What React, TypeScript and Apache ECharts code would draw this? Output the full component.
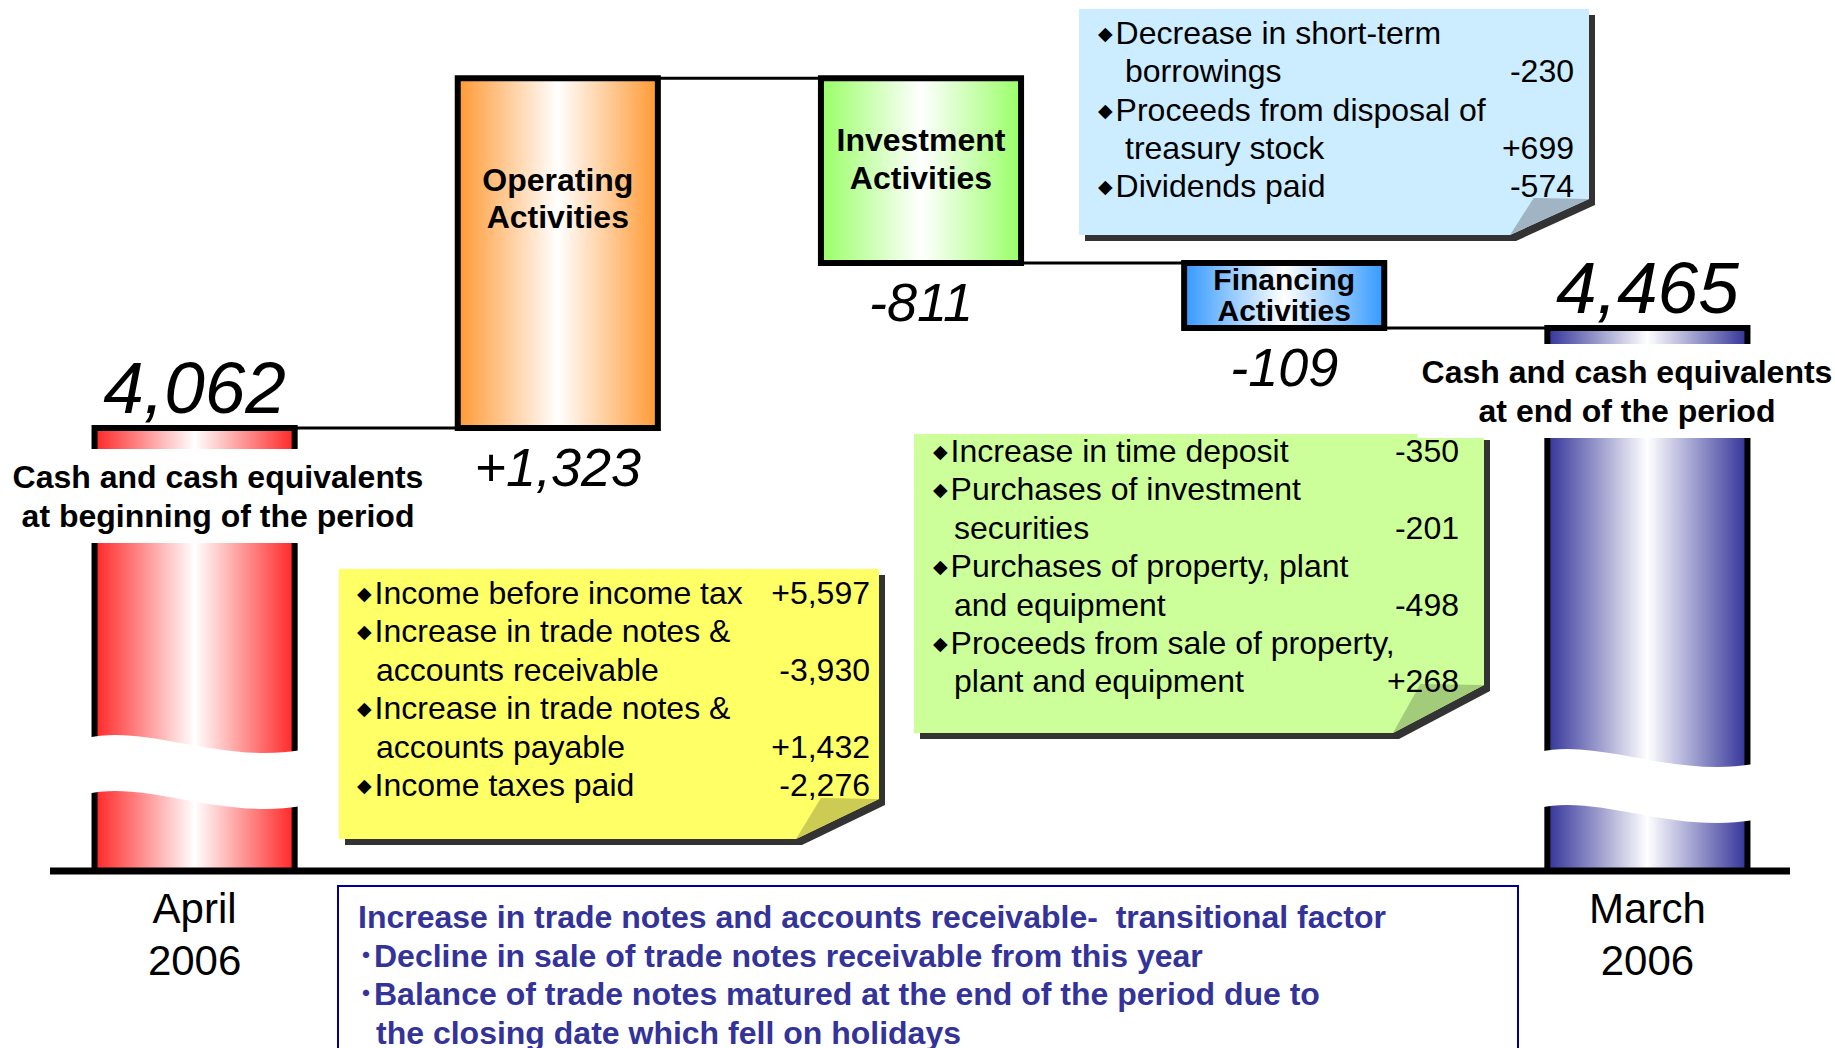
import React, { useEffect, useRef } from 'react';
import * as echarts from 'echarts';

// ---------------- data ----------------
const categories = [
  'Cash and cash equivalents at beginning of the period',
  'Operating Activities',
  'Investment Activities',
  'Financing Activities',
  'Cash and cash equivalents at end of the period',
];
const periodLabels = ['April\n2006', '', '', '', 'March\n2006'];
const barTitles = ['', 'Operating\nActivities', 'Investment\nActivities', 'Financing\nActivities', ''];
const openingBalance = 4062;
const activityChanges = [1323, -811, -109];
const closingBalance = 4465;
const valueLabels = ['4,062', '+1,323', '-811', '-109', '4,465'];
const sideLabels = [
  'Cash and cash equivalents\nat beginning of the period',
  'Cash and cash equivalents\nat end of the period',
];

const operatingDetails = [
  ['◆', 'Income before income tax', '+5,597'],
  ['◆', 'Increase in trade notes &', ''],
  ['', 'accounts receivable', '-3,930'],
  ['◆', 'Increase in trade notes &', ''],
  ['', 'accounts payable', '+1,432'],
  ['◆', 'Income taxes paid', '-2,276'],
];
const investmentDetails = [
  ['◆', 'Increase in time deposit', '-350'],
  ['◆', 'Purchases of investment', ''],
  ['', 'securities', '-201'],
  ['◆', 'Purchases of property, plant', ''],
  ['', 'and equipment', '-498'],
  ['◆', 'Proceeds from sale of property,', ''],
  ['', 'plant and equipment', '+268'],
];
const financingDetails = [
  ['◆', 'Decrease in short-term', ''],
  ['', 'borrowings', '-230'],
  ['◆', 'Proceeds from disposal of', ''],
  ['', 'treasury stock', '+699'],
  ['◆', 'Dividends paid', '-574'],
];
const footnoteLines = [
  'Increase in trade notes and accounts receivable-  transitional factor',
  '･Decline in sale of trade notes receivable from this year',
  '･Balance of trade notes matured at the end of the period due to',
  'the closing date which fell on holidays',
];

// ---------------- styles ----------------
const FONT = '"Liberation Sans", Arial, "Noto Sans CJK JP", sans-serif';
const barColors = ['#FF2626', '#FF9933', '#99FF66', '#3399FF', '#333399'];
const titleAnchor = [0, 0.345, 0.44, 0.5, 0];
const titleFontSize = [32, 32, 32, 30, 32];
const titleLineHeight = [37, 37, 38, 31, 37];

const WavePath = echarts.graphic.extendPath(
  'M0 2 C60 -12 130 28 210 14 L210 70 C130 84 60 44 0 58 Z',
  {}
);
echarts.graphic.registerShape('breakWave', WavePath);

// waterfall rows built from the data: [index, low, high, connector level]
const levels: number[] = [openingBalance];
activityChanges.forEach((c) => levels.push(levels[levels.length - 1] + c));
const waterfallData = categories.map((_, i) => {
  if (i === 0) return [0, 0, openingBalance, openingBalance];
  if (i === categories.length - 1) return [i, 0, closingBalance, closingBalance];
  const prev = levels[i - 1];
  const next = levels[i];
  return [i, Math.min(prev, next), Math.max(prev, next), next];
});

function renderWaterfall(params: any, api: any) {
  const i = api.value(0);
  const low = api.value(1);
  const high = api.value(2);
  const level = api.value(3);
  const cs = params.coordSys;
  const floor = cs.y + cs.height;
  const pHigh = api.coord([i, high]);
  const pLow = api.coord([i, low]);
  const cx = pHigh[0];
  const w = api.size([1, 0])[0] * 0.551;
  const top = pHigh[1];
  let bottom = pLow[1];
  if (!isFinite(bottom) || bottom > floor) bottom = floor;
  const c = barColors[i];
  const n = categories.length;
  const children: any[] = [
    {
      type: 'rect',
      shape: { x: cx - w / 2, y: top, width: w, height: bottom - top },
      style: {
        fill: new echarts.graphic.LinearGradient(0, 0, 1, 0, [
          { offset: 0, color: c },
          { offset: 0.5, color: '#ffffff' },
          { offset: 1, color: c },
        ]),
        stroke: '#000',
        lineWidth: 6,
      },
    },
  ];
  if (i < n - 1) {
    const pL = api.coord([i, level]);
    const pN = api.coord([i + 1, level]);
    children.push({
      type: 'line',
      shape: { x1: cx + w / 2, y1: pL[1], x2: pN[0] - w / 2, y2: pL[1] },
      style: { stroke: '#000', lineWidth: 3 },
    });
  }
  const isTotal = i === 0 || i === n - 1;
  children.push({
    type: 'text',
    x: cx,
    y: isTotal ? top - 4 : bottom + 12,
    style: {
      text: valueLabels[i],
      fill: '#000',
      fontSize: isTotal ? 73 : 54,
      fontStyle: 'italic',
      fontFamily: FONT,
      align: 'center',
      textAlign: 'center',
      verticalAlign: isTotal ? 'bottom' : 'top',
      textVerticalAlign: isTotal ? 'bottom' : 'top',
    },
  });
  if (barTitles[i]) {
    children.push({
      type: 'text',
      x: cx,
      y: top + (bottom - top) * titleAnchor[i],
      style: {
        text: barTitles[i],
        fill: '#000',
        fontSize: titleFontSize[i],
        fontWeight: 'bold',
        fontFamily: FONT,
        lineHeight: titleLineHeight[i],
        align: 'center',
        textAlign: 'center',
        verticalAlign: 'middle',
        textVerticalAlign: 'middle',
      },
    });
  }
  return { type: 'group', children };
}

function makeNote(
  box: { x: number; y: number; w: number; h: number; fw: number; fh: number },
  fill: string,
  fold: string,
  rows: string[][],
  lay: { firstY: number; gap: number; bulletX: number; indentX: number; valueX: number }
) {
  const { x, y, w, h, fw, fh } = box;
  const outline = [
    [0, 0],
    [w, 0],
    [w, h - fh],
    [w - fw, h],
    [0, h],
  ];
  const els: any[] = [
    { type: 'polygon', x: x + 6, y: y + 6, z: 100, shape: { points: outline }, style: { fill: '#333333' } },
    { type: 'polygon', x, y, z: 101, shape: { points: outline }, style: { fill } },
    {
      type: 'polygon',
      x,
      y,
      z: 102,
      shape: { points: [[w - fw, h], [w - fw + fw * 0.3, h - fh - 1], [w, h - fh]] },
      style: { fill: fold },
    },
  ];
  rows.forEach((r, k) => {
    const cy = lay.firstY + k * lay.gap;
    const [bullet, label, value] = r;
    els.push({
      type: 'text',
      x: bullet ? lay.bulletX : lay.indentX,
      y: cy,
      z: 103,
      style: {
        text: bullet ? '{d|' + bullet + '}' + label : label,
        rich: { d: { fontSize: 19, fontFamily: 'DejaVu Sans', fill: '#000', padding: [0, 3, 0, 0] } },
        fill: '#000',
        fontSize: 32,
        fontFamily: FONT,
        align: 'left',
        textAlign: 'left',
        verticalAlign: 'middle',
        textVerticalAlign: 'middle',
      },
    });
    if (value) {
      els.push({
        type: 'text',
        x: lay.valueX,
        y: cy,
        z: 103,
        style: {
          text: value,
          fill: '#000',
          fontSize: 32,
          fontFamily: FONT,
          align: 'right',
          textAlign: 'right',
          verticalAlign: 'middle',
          textVerticalAlign: 'middle',
        },
      });
    }
  });
  return els;
}

export default function App() {
  const ref = useRef<HTMLDivElement>(null);
  useEffect(() => {
    if (!ref.current) return;
    const chart = echarts.init(ref.current, null, { renderer: 'svg' });

    const graphicEls: any[] = [];
    // baseline
    graphicEls.push({
      type: 'line',
      z: 100,
      shape: { x1: 50, y1: 871, x2: 1790, y2: 871 },
      style: { stroke: '#000', lineWidth: 7 },
    });
    // broken-axis waves
    graphicEls.push({ type: 'breakWave', x: 86, y: 736, scaleX: 216 / 210, scaleY: 1, z: 110, style: { fill: '#fff' } });
    graphicEls.push({ type: 'breakWave', x: 1538, y: 750, scaleX: 216 / 210, scaleY: 1, z: 110, style: { fill: '#fff' } });
    // side labels
    const sideStyle = {
      fill: '#000',
      fontSize: 32,
      fontWeight: 'bold',
      fontFamily: FONT,
      lineHeight: 39,
      align: 'center',
      textAlign: 'center',
      verticalAlign: 'middle',
      textVerticalAlign: 'middle',
      backgroundColor: '#fff',
      padding: [8, 4],
    };
    graphicEls.push({ type: 'text', x: 218, y: 496, z: 111, style: { ...sideStyle, text: sideLabels[0] } });
    graphicEls.push({ type: 'text', x: 1627, y: 391, z: 111, style: { ...sideStyle, text: sideLabels[1] } });

    // notes
    graphicEls.push(
      ...makeNote({ x: 339, y: 569, w: 540, h: 270, fw: 83, fh: 40 }, '#FFFF66', '#CCCC55', operatingDetails, {
        firstY: 593,
        gap: 38.4,
        bulletX: 357,
        indentX: 376,
        valueX: 870,
      })
    );
    graphicEls.push(
      ...makeNote({ x: 914, y: 434, w: 570, h: 299, fw: 91, fh: 48 }, '#CCFF99', '#A3CC7A', investmentDetails, {
        firstY: 451,
        gap: 38.4,
        bulletX: 933,
        indentX: 954,
        valueX: 1459,
      })
    );
    graphicEls.push(
      ...makeNote({ x: 1079, y: 9, w: 510, h: 226, fw: 79, fh: 36 }, '#CCECFF', '#A0B4C4', financingDetails, {
        firstY: 33,
        gap: 38.3,
        bulletX: 1098,
        indentX: 1125,
        valueX: 1574,
      })
    );

    // footnote box
    graphicEls.push({
      type: 'rect',
      z: 100,
      shape: { x: 338, y: 886, width: 1180, height: 220 },
      style: { fill: '#fff', stroke: '#000099', lineWidth: 2 },
    });
    footnoteLines.forEach((t, k) => {
      graphicEls.push({
        type: 'text',
        x: k === 3 ? 376 : 358,
        y: 917 + k * 38.6,
        z: 101,
        style: {
          text: t,
          fill: '#333399',
          fontSize: 32,
          fontWeight: 'bold',
          fontFamily: FONT,
          align: 'left',
          textAlign: 'left',
          verticalAlign: 'middle',
          textVerticalAlign: 'middle',
        },
      });
    });

    const option: any = {
      animation: false,
      backgroundColor: '#ffffff',
      grid: { left: 13, right: 6, top: 40, bottom: 177, outerBoundsMode: 'none' },
      xAxis: {
        type: 'category',
        data: categories,
        axisLine: { show: false },
        axisTick: { show: false },
        splitLine: { show: false },
        axisLabel: {
          interval: 0,
          formatter: (_v: string, idx: number) => periodLabels[idx],
          fontSize: 42,
          lineHeight: 52,
          fontFamily: FONT,
          color: '#000',
          margin: 11,
        },
      },
      yAxis: {
        type: 'value',
        show: false,
        min: 3319,
        max: 5449,
        splitLine: { show: false },
        breaks: [
          { start: 4062, end: 4465, gap: 168 },
          { start: 4574, end: 5385, gap: 310 },
        ],
        breakArea: { show: false },
      },
      series: [
        {
          type: 'custom',
          coordinateSystem: 'cartesian2d',
          renderItem: renderWaterfall,
          encode: { x: 0, y: [1, 2] },
          data: waterfallData,
          z: 2,
        },
      ],
      graphic: { elements: graphicEls },
    };
    chart.setOption(option);
    return () => chart.dispose();
  }, []);
  return (
    <div
      ref={ref}
      style={{ position: 'absolute', left: 0, top: 0, width: 1835, height: 1048, background: '#fff' }}
    />
  );
}
